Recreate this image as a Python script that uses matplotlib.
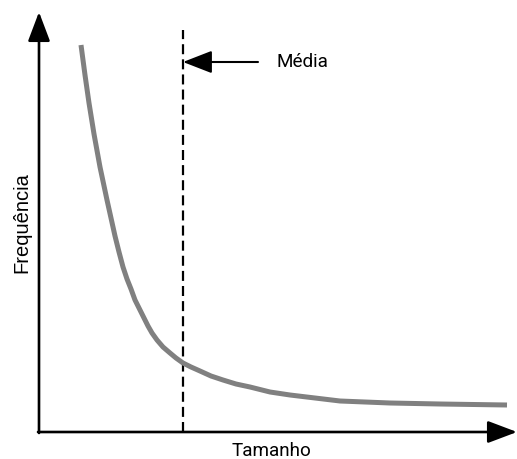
import matplotlib
matplotlib.use("Agg")
import matplotlib.pyplot as plt

# Data (units: origin at the axes corner)
curve_x = [42, 46, 50, 55, 61, 68, 76, 80, 84, 88, 92, 96, 101, 105, 109, 113, 118, 124,
           131, 137, 144, 152, 161, 172, 184, 197, 211, 231, 251, 276, 301, 351, 401, 468]
curve_y = [387, 357, 329, 298, 265, 232, 196, 180, 165, 153, 143, 132, 122, 114, 106, 99,
           92, 85, 79, 74, 69, 65, 61, 56, 52, 48, 45, 40, 37, 34, 31, 29, 28, 27]
mean_x = 144
mean_top = 402
label_mean = "Média"
label_x = "Tamanho"
label_y = "Frequência"

fig = plt.figure(figsize=(5.17, 4.59), dpi=100)
ax = fig.add_axes([0, 0, 1, 1])
ax.set_xlim(-39, 478)
ax.set_ylim(-27, 432)
ax.axis("off")

# axes arrows
arrow_kw = dict(arrowstyle="-|>,head_length=1.8,head_width=0.68", mutation_scale=10,
                lw=1.9, color="black", shrinkA=0, shrinkB=0)
ax.annotate("", xy=(0, 420), xytext=(0, -1), arrowprops=arrow_kw, annotation_clip=False)
ax.annotate("", xy=(478, 0), xytext=(-1, 0), arrowprops=arrow_kw, annotation_clip=False)

# curve
ax.plot(curve_x, curve_y, color="#808080", lw=3.6, solid_capstyle="butt",
        solid_joinstyle="round", zorder=3)

# mean line
ax.plot([mean_x, mean_x], [0, mean_top], color="black", lw=1.6,
        linestyle=(0, (4.5, 2.3)), zorder=2)

# mean arrow
ax.annotate("", xy=(mean_x, 370), xytext=(219, 370),
            arrowprops=dict(arrowstyle="-|>,head_length=1.8,head_width=0.7",
                            mutation_scale=10, lw=1.5, color="black",
                            shrinkA=0, shrinkB=0))
ax.text(238, 370, label_mean, fontsize=13.6, family=["Roboto", "DejaVu Sans"],
        ha="left", va="center")

ax.text(232.5, -19, label_x, fontsize=13.6, family=["Roboto", "DejaVu Sans"],
        ha="center", va="center")
ax.text(-17, 209, label_y, fontsize=14.5, family=["Liberation Sans", "DejaVu Sans"],
        ha="center", va="center", rotation=90)

fig.savefig("out.png", dpi=100)
